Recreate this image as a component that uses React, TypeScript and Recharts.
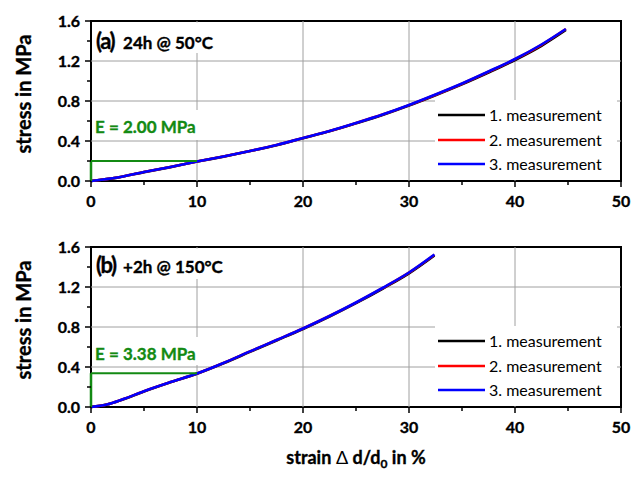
import React from 'react';
import { LineChart, Line, XAxis, YAxis, CartesianGrid, ReferenceArea, ReferenceLine, Legend } from 'recharts';

// panel (a): 24h @ 50°C
const STRAIN_A = [0, 2.5, 5, 7.5, 10, 12.5, 15, 17.5, 20, 22.5, 25, 27.5, 30, 32.5, 35, 37.5, 40, 42.5, 44.8];
const STRESS_A1 = [0, 0.034, 0.089, 0.139, 0.194, 0.244, 0.299, 0.358, 0.428, 0.497, 0.577, 0.661, 0.755, 0.858, 0.967, 1.085, 1.21, 1.352, 1.51];
const STRESS_A2 = [0, 0.035, 0.09, 0.14, 0.195, 0.245, 0.3, 0.36, 0.43, 0.5, 0.58, 0.664, 0.759, 0.863, 0.973, 1.092, 1.218, 1.362, 1.52];
const STRESS_A3 = [0, 0.035, 0.09, 0.14, 0.195, 0.245, 0.3, 0.36, 0.43, 0.5, 0.58, 0.665, 0.76, 0.865, 0.975, 1.095, 1.22, 1.365, 1.52];

// panel (b): +2h @ 150°C
const STRAIN_B = [0, 1.5, 3, 5, 7.5, 10, 12.5, 15, 17.5, 20, 22.5, 25, 27.5, 30, 32.4];
const STRESS_B1 = [0, 0.024, 0.075, 0.155, 0.247, 0.333, 0.437, 0.551, 0.665, 0.78, 0.904, 1.038, 1.182, 1.336, 1.515];
const STRESS_B2 = [0, 0.025, 0.077, 0.158, 0.249, 0.335, 0.44, 0.556, 0.67, 0.785, 0.91, 1.044, 1.188, 1.343, 1.522];
const STRESS_B3 = [0, 0.025, 0.077, 0.158, 0.249, 0.335, 0.44, 0.556, 0.67, 0.785, 0.91, 1.045, 1.19, 1.345, 1.525];

const SERIES_NAMES = ['1. measurement', '2. measurement', '3. measurement'];
const SERIES_COLORS = ['#000000', '#ff0000', '#0000ff'];

const X_TICKS = [0, 5, 10, 15, 20, 25, 30, 35, 40, 45, 50];
const Y_TICKS = [0, 0.2, 0.4, 0.6, 0.8, 1.0, 1.2, 1.4, 1.6];

const FONT = 'Lato, "Open Sans", sans-serif';
const GREEN = '#138a13';
const HEAVY = { stroke: '#000', strokeWidth: 0.35 };

const toPoints = (xs: number[], ys: number[]) => xs.map((x, i) => ({ x, y: ys[i] }));

const XTick = ({ x, y, payload }: any) => {
  const v = payload.value;
  const major = v % 10 === 0;
  return (
    <g>
      <line x1={x} x2={x} y1={y} y2={y + (major ? 6 : 4)} stroke="#000" strokeWidth={1.5} />
      {major && (
        <text x={x} y={y + 26} textAnchor="middle" fontFamily={FONT} fontWeight={700} fontSize={16} fill="#000" {...HEAVY}>
          {v}
        </text>
      )}
    </g>
  );
};

const YTick = ({ x, y, payload }: any) => {
  const v = payload.value;
  const major = Math.round(v * 10) % 4 === 0;
  return (
    <g>
      <line x1={x} x2={x - (major ? 6 : 4)} y1={y} y2={y} stroke="#000" strokeWidth={1.5} />
      {major && (
        <text x={x - 11} y={y + 5.6} textAnchor="end" fontFamily={FONT} fontWeight={700} fontSize={16} fill="#000" {...HEAVY}>
          {v.toFixed(1)}
        </text>
      )}
    </g>
  );
};

const renderLegend = (props: any) => (
  <div style={{ background: '#fff', width: 182, height: 80, paddingTop: 3, boxSizing: 'border-box' }}>
    {(props.payload || []).map((e: any) => (
      <div key={e.value} style={{ display: 'flex', alignItems: 'center', height: 24.5 }}>
        <svg width={50} height={4} style={{ display: 'block' }}>
          <line x1={3} x2={50} y1={2} y2={2} stroke={e.color} strokeWidth={2.5} />
        </svg>
        <span style={{ marginLeft: 4, fontFamily: FONT, fontSize: 16, color: '#000', lineHeight: 1 }}>{e.value}</span>
      </div>
    ))}
  </div>
);

const yTitle = (props: any) => {
  const vb = props.viewBox;
  const cx = vb.x + 31;
  const cy = vb.y + vb.height / 2 - 7;
  return (
    <text x={cx} y={cy} transform={`rotate(-90 ${cx} ${cy})`} textAnchor="middle" fontFamily={FONT} fontWeight={700} fontSize={20} fill="#000" {...HEAVY}>
      stress in MPa
    </text>
  );
};

const xTitle = (props: any) => {
  const vb = props.viewBox;
  const cx = vb.x + vb.width / 2;
  const cy = vb.y + 57;
  return (
    <text x={cx} y={cy} textAnchor="middle" fontFamily={FONT} fontWeight={700} fontSize={18} fill="#000" {...HEAVY}>
      strain<tspan fontWeight={400} strokeWidth={0}> Δ</tspan> d/d<tspan fontSize={12} dy={4}>0</tspan>
      <tspan dy={-4}> in %</tspan>
    </text>
  );
};

const panelTitle = (tag: string, text: string, dy: number) => (props: any) => {
  const vb = props.viewBox;
  return (
    <g>
      <text x={vb.x + 4} y={vb.y + dy} fontFamily={FONT} fontWeight={700} fontSize={22} letterSpacing={-1.5} fill="#000" {...HEAVY}>
        {tag}
      </text>
      <text x={vb.x + 31} y={vb.y + dy} fontFamily={FONT} fontWeight={700} fontSize={17} fill="#000" {...HEAVY}>
        {text}
      </text>
    </g>
  );
};

const modulusLabel = (text: string) => (props: any) => {
  const vb = props.viewBox;
  return (
    <text x={vb.x + 3} y={vb.y + 22.5} fontFamily={FONT} fontWeight={700} fontSize={17} fill={GREEN} stroke={GREEN} strokeWidth={0.35}>
      {text}
    </text>
  );
};

interface PanelProps {
  top: number;
  height: number;
  strain: number[];
  stress: number[][];
  tag: string;
  title: string;
  titleDy: number;
  modulus: string;
  e10: number;
  eBox: [number, number];
  showXTitle: boolean;
}

function Panel({ top, height, strain, stress, tag, title, titleDy, modulus, e10, eBox, showXTitle }: PanelProps) {
  return (
    <div style={{ position: 'absolute', left: 0, top, width: 641, height }}>
      {/* plot frame, sits under the chart svg so the green E lines stay on top */}
      <div style={{ position: 'absolute', left: 90, top: 20, width: 532, height: 162, border: '2px solid #000', boxSizing: 'border-box' }} />
      <LineChart width={641} height={height} margin={{ top: 21, right: 20, left: 0, bottom: 0 }}>
        <CartesianGrid stroke="#a0a0a0" strokeWidth={1} verticalValues={[10, 20, 30, 40]} horizontalValues={[0.4, 0.8, 1.2]} />
        <XAxis
          dataKey="x"
          type="number"
          domain={[0, 50]}
          ticks={X_TICKS}
          interval={0}
          height={height - 21 - 160}
          axisLine={false}
          tickLine={false}
          tickSize={0}
          tickMargin={0}
          tick={<XTick />}
          label={showXTitle ? xTitle : undefined}
        />
        <YAxis
          type="number"
          domain={[0, 1.6]}
          ticks={Y_TICKS}
          interval={0}
          width={91}
          axisLine={false}
          tickLine={false}
          tickSize={0}
          tickMargin={0}
          tick={<YTick />}
          label={yTitle}
        />
        <ReferenceArea x1={0.1} x2={12.8} y1={1.28} y2={1.585} fill="#fff" fillOpacity={1} stroke="none" label={panelTitle(tag, title, titleDy)} />
        <ReferenceArea x1={0.1} x2={10.4} y1={eBox[0]} y2={eBox[1]} fill="#fff" fillOpacity={1} stroke="none" label={modulusLabel(modulus)} />
        {stress.map((ys, i) => (
          <Line
            key={SERIES_NAMES[i]}
            data={toPoints(strain, ys)}
            dataKey="y"
            name={SERIES_NAMES[i]}
            type="monotone"
            stroke={SERIES_COLORS[i]}
            strokeWidth={2.6}
            dot={false}
            isAnimationActive={false}
          />
        ))}
        <ReferenceLine segment={[{ x: 0, y: e10 }, { x: 10, y: e10 }]} stroke={GREEN} strokeWidth={2} />
        <ReferenceLine segment={[{ x: 0, y: 0 }, { x: 0, y: e10 }]} stroke={GREEN} strokeWidth={2.5} />
        <Legend
          layout="vertical"
          align="center"
          verticalAlign="middle"
          content={renderLegend}
          wrapperStyle={{ left: 435, top: 100, width: 182, height: 80 }}
        />
      </LineChart>
    </div>
  );
}

export default function App() {
  return (
    <div style={{ position: 'absolute', left: 0, top: 0, width: 641, height: 478, background: '#fff' }}>
      <Panel
        top={0}
        height={210}
        strain={STRAIN_A}
        stress={[STRESS_A1, STRESS_A2, STRESS_A3]}
        tag="(a)"
        title="24h @ 50°C"
        titleDy={26}
        modulus="E = 2.00 MPa"
        e10={0.2}
        eBox={[0.41, 0.71]}
        showXTitle={false}
      />
      <Panel
        top={226}
        height={252}
        strain={STRAIN_B}
        stress={[STRESS_B1, STRESS_B2, STRESS_B3]}
        tag="(b)"
        title="+2h @ 150°C"
        titleDy={24.5}
        modulus="E = 3.38 MPa"
        e10={0.338}
        eBox={[0.42, 0.7]}
        showXTitle={true}
      />
    </div>
  );
}
